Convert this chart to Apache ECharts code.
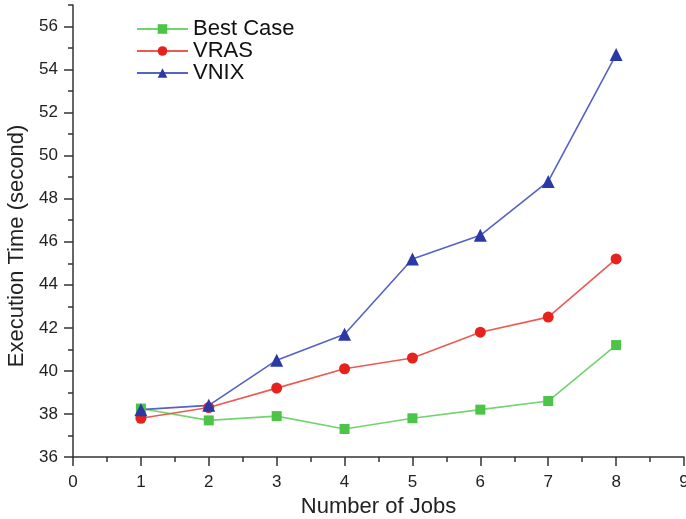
<!DOCTYPE html>
<html>
<head>
<meta charset="utf-8">
<script src="https://cdn.jsdelivr.net/npm/echarts@6/dist/echarts.min.js"></script>
<style>
  html, body { margin: 0; padding: 0; background: #fff; }
  #chart { width: 686px; height: 519px; }
</style>
</head>
<body>
<div id="chart"></div>
<script>
// Number of jobs on the x axis
const jobs = [1, 2, 3, 4, 5, 6, 7, 8];
// Execution time (seconds) per scheduling approach
const bestCase = [38.25, 37.7, 37.9, 37.3, 37.8, 38.2, 38.6, 41.2];
const vras = [37.8, 38.3, 39.2, 40.1, 40.6, 41.8, 42.5, 45.2];
const vnix = [38.2, 38.4, 40.5, 41.7, 45.2, 46.3, 48.8, 54.7];
// Y-axis tick labels (major) and minor tick positions
const yMajorTicks = [36, 38, 40, 42, 44, 46, 48, 50, 52, 54, 56];
const yMinorTicks = [37, 39, 41, 43, 45, 47, 49, 51, 53, 55, 57];

const font = 'Liberation Sans, Arial, sans-serif';
const axisColor = '#333';

function pairs(vals) {
  return jobs.map((j, i) => [j, vals[i]]);
}

const chart = echarts.init(document.getElementById('chart'));
chart.setOption({
  animation: false,
  backgroundColor: '#fff',
  grid: { left: 73, right: 2, top: 5, bottom: 62, containLabel: false, outerBoundsMode: 'none' },
  legend: {
    orient: 'vertical',
    left: 131,
    top: 13,
    itemWidth: 51,
    itemHeight: 12,
    itemGap: 0,
    textStyle: { fontFamily: font, fontSize: 22, color: '#111' },
    data: ['Best Case', 'VRAS', 'VNIX']
  },
  xAxis: {
    type: 'value',
    min: 0,
    max: 9,
    interval: 1,
    name: 'Number of Jobs',
    nameLocation: 'middle',
    nameGap: 37,
    nameTextStyle: { fontFamily: font, fontSize: 22, color: '#222' },
    axisLine: { lineStyle: { color: axisColor, width: 1.5 } },
    axisTick: { length: 9, lineStyle: { color: axisColor, width: 1.5 } },
    minorTick: { show: true, splitNumber: 2, length: 5, lineStyle: { color: axisColor, width: 1.5 } },
    axisLabel: { fontFamily: font, fontSize: 17, color: '#222', margin: 17 },
    splitLine: { show: false },
    minorSplitLine: { show: false }
  },
  yAxis: [
    {
      type: 'value',
      min: 36,
      max: 57,
      position: 'left',
      name: 'Execution Time (second)',
      nameLocation: 'middle',
      nameGap: 45,
      nameTextStyle: { fontFamily: font, fontSize: 22, color: '#222', padding: [0, 30, 0, 0] },
      axisLine: { show: true, lineStyle: { color: axisColor, width: 1.5 } },
      axisTick: { show: true, length: 9, customValues: yMajorTicks, lineStyle: { color: axisColor, width: 1.5 } },
      axisLabel: { fontFamily: font, fontSize: 17, color: '#222', margin: 15, customValues: yMajorTicks },
      splitLine: { show: false }
    },
    {
      type: 'value',
      min: 36,
      max: 57,
      position: 'left',
      axisLine: { show: false },
      axisTick: { show: true, length: 5, customValues: yMinorTicks, lineStyle: { color: axisColor, width: 1.5 } },
      axisLabel: { show: false, customValues: yMinorTicks },
      splitLine: { show: false }
    }
  ],
  series: [
    {
      name: 'Best Case',
      type: 'line',
      data: pairs(bestCase),
      symbol: 'rect',
      symbolSize: 10,
      itemStyle: { color: '#4cc448' },
      lineStyle: { color: '#72d46e', width: 1.6 }
    },
    {
      name: 'VRAS',
      type: 'line',
      data: pairs(vras),
      symbol: 'circle',
      symbolSize: 11,
      itemStyle: { color: '#e5231c' },
      lineStyle: { color: '#ee5a52', width: 1.6 }
    },
    {
      name: 'VNIX',
      type: 'line',
      data: pairs(vnix),
      symbol: 'triangle',
      symbolSize: 13,
      itemStyle: { color: '#2a39a6' },
      lineStyle: { color: '#5662c4', width: 1.6 }
    }
  ]
});
</script>
</body>
</html>
